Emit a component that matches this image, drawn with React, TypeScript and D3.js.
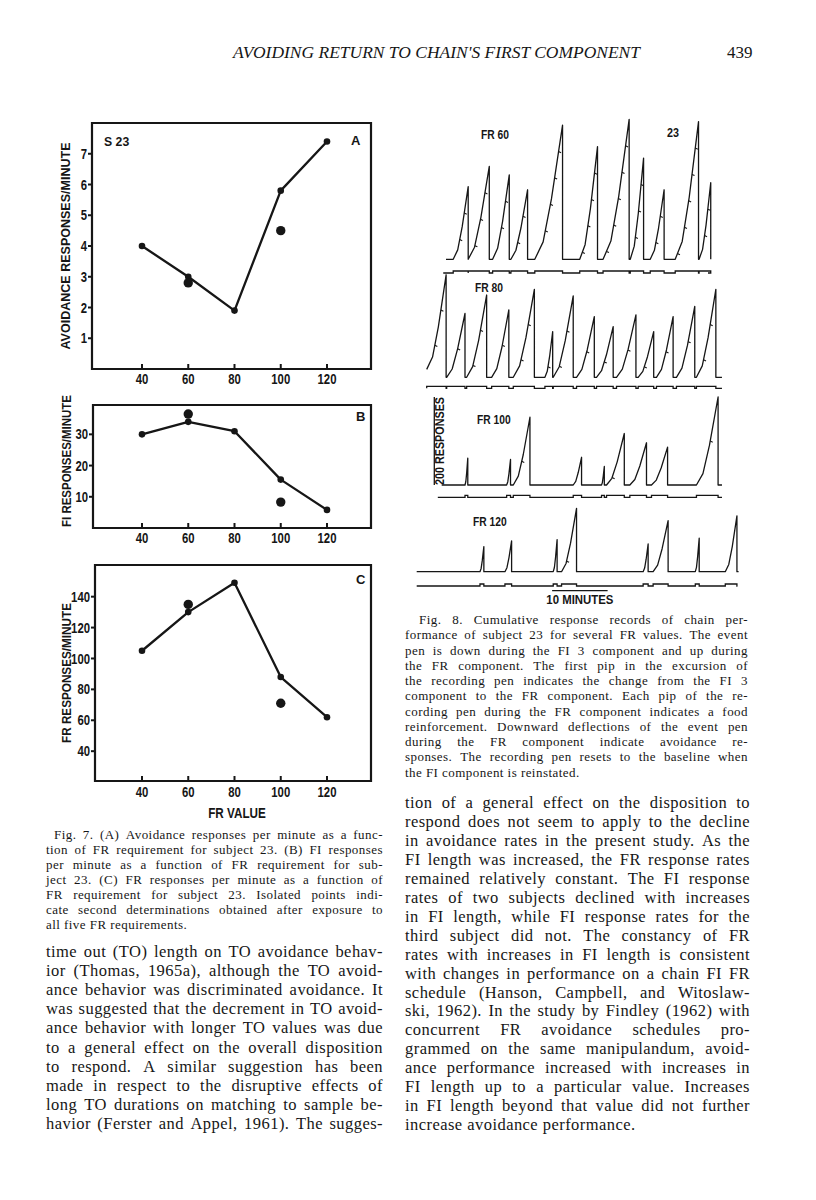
import React from 'react';
import * as d3 from 'd3';

// ---------------- data ----------------
const frValues = [40, 60, 80, 100, 120];
const xTickLabels = ['40', '60', '80', '100', '120'];

const avoidRates = [4.0, 3.0, 1.9, 5.8, 7.4];
const avoidRedetFR = [60, 100];
const avoidRedet = [2.8, 4.5];
const avoidTicks = [1, 2, 3, 4, 5, 6, 7];

const fiRates = [30, 34, 31, 15.5, 5.8];
const fiRedetFR = [60, 100];
const fiRedet = [36.5, 8.3];
const fiTicks = [10, 20, 30];

const frRates = [105, 130, 149, 88, 62];
const frRedetFR = [60, 100];
const frRedet = [135, 71];
const frTicks = [40, 60, 80, 100, 120, 140];

// cumulative records: excursion start (min), peak (min), peak height (responses)
const rec60Start = [1.3, 4.0, 8.4, 11.7, 16.0, 24.1, 28.3, 33.2, 36.8, 41.3, 45.6];
const rec60Peak = [4.0, 7.8, 11.4, 14.7, 21.0, 27.3, 33.0, 35.6, 39.3, 45.5, 47.7];
const rec60Height = [165, 211, 192, 158, 305, 256, 318, 230, 158, 313, 174];

const rec80Start = [0, 3.6, 7.2, 11.7, 15.6, 21.3, 22.8, 27.0, 30.6, 34.2, 38.1, 41.4, 45.0, 48.6];
const rec80Peak = [3.5, 6.9, 10.8, 14.8, 19.4, 22.7, 26.4, 30.2, 33.6, 37.7, 40.9, 44.4, 48.3, 52.1];
const rec80Height = [233, 145, 187, 153, 200, 104, 185, 138, 115, 142, 104, 138, 161, 200];

const rec100Start = [4.2, 11.7, 12.9, 23.7, 28.8, 29.7, 33.9, 37.8, 45.9];
const rec100Peak = [4.7, 12.4, 15.9, 25.2, 29.3, 32.9, 36.9, 40.7, 49.8];
const rec100Height = [61, 58, 154, 63, 42, 117, 96, 86, 200];

const rec120Start = [11.4, 15.9, 24.6, 26.1, 40.8, 42.6, 50.2, 55.6];
const rec120Peak = [12.1, 17.1, 25.3, 28.8, 41.7, 45.3, 50.9, 57.7];
const rec120Height = [57, 70, 73, 144, 63, 116, 76, 127];

const recordLabels = ['FR 60', 'FR 80', 'FR 100', 'FR 120'];

// ---------------- text ----------------
const headerText = "AVOIDING RETURN TO CHAIN'S FIRST COMPONENT";
const pageNumber = '439';

const fig7Caption = [
  'Fig. 7. (A) Avoidance responses per minute as a func-',
  'tion of FR requirement for subject 23. (B) FI responses',
  'per minute as a function of FR requirement for sub-',
  'ject 23. (C) FR responses per minute as a function of',
  'FR requirement for subject 23. Isolated points indi-',
  'cate second determinations obtained after exposure to',
  'all five FR requirements.',
];

const fig8Caption = [
  'Fig. 8. Cumulative response records of chain per-',
  'formance of subject 23 for several FR values. The event',
  'pen is down during the FI 3 component and up during',
  'the FR component. The first pip in the excursion of',
  'the recording pen indicates the change from the FI 3',
  'component to the FR component. Each pip of the re-',
  'cording pen during the FR component indicates a food',
  'reinforcement. Downward deflections of the event pen',
  'during the FR component indicate avoidance re-',
  'sponses. The recording pen resets to the baseline when',
  'the FI component is reinstated.',
];

const leftBody = [
  'time out (TO) length on TO avoidance behav-',
  'ior (Thomas, 1965a), although the TO avoid-',
  'ance behavior was discriminated avoidance. It',
  'was suggested that the decrement in TO avoid-',
  'ance behavior with longer TO values was due',
  'to a general effect on the overall disposition',
  'to respond. A similar suggestion has been',
  'made in respect to the disruptive effects of',
  'long TO durations on matching to sample be-',
  'havior (Ferster and Appel, 1961). The sugges-',
];

const rightBody = [
  'tion of a general effect on the disposition to',
  'respond does not seem to apply to the decline',
  'in avoidance rates in the present study. As the',
  'FI length was increased, the FR response rates',
  'remained relatively constant. The FI response',
  'rates of two subjects declined with increases',
  'in FI length, while FI response rates for the',
  'third subject did not. The constancy of FR',
  'rates with increases in FI length is consistent',
  'with changes in performance on a chain FI FR',
  'schedule (Hanson, Campbell, and Witoslaw-',
  'ski, 1962). In the study by Findley (1962) with',
  'concurrent FR avoidance schedules pro-',
  'grammed on the same manipulandum, avoid-',
  'ance performance increased with increases in',
  'FI length up to a particular value. Increases',
  'in FI length beyond that value did not further',
  'increase avoidance performance.',
];

// ---------------- style ----------------
const INK = '#161616';
const SANS = '"Liberation Sans","Arial",sans-serif';
const SERIF = '"Liberation Serif","Times New Roman",serif';

let _ctx: CanvasRenderingContext2D | null = null;
function measure(text: string, font: string) {
  if (!_ctx) _ctx = document.createElement('canvas').getContext('2d');
  _ctx!.font = font;
  return _ctx!.measureText(text).width;
}

function Block({ lines, x, y, lh, width, size, ls, lastFree, indent }: any) {
  const font = `${size}px "Liberation Serif"`;
  return (
    <g>
      {lines.map((ln: string, i: number) => {
        const words = ln.split(' ');
        const ws = words.map((w) => measure(w, font) + ls * w.length);
        const x0 = x + (i === 0 ? indent : 0);
        const avail = x + width - x0;
        const total = ws.reduce((a, b) => a + b, 0);
        const justify = !(lastFree && i === lines.length - 1);
        const gap =
          justify && words.length > 1 ? (avail - total) / (words.length - 1) : measure(' ', font) + ls;
        let cx = x0;
        const xs = ws.map((w) => {
          const r = cx;
          cx += w + gap;
          return r;
        });
        return (
          <text key={i} y={y + i * lh} fontFamily={SERIF} fontSize={size} letterSpacing={ls} fill={INK}>
            {words.map((w, j) => (
              <tspan key={j} x={xs[j]}>
                {w}
              </tspan>
            ))}
          </text>
        );
      })}
    </g>
  );
}

// condensed bold label (width forced per character)
function CText({ x, y, anchor, size, perChar, children, dy }: any) {
  const s = String(children);
  return (
    <text
      x={x}
      y={y}
      dy={dy}
      textAnchor={anchor}
      fontFamily={SANS}
      fontWeight="bold"
      fontSize={size}
      textLength={s.length * perChar}
      lengthAdjust="spacingAndGlyphs"
      fill={INK}
    >
      {s}
    </text>
  );
}

function Panel(p: any) {
  const x = d3.scaleLinear().domain([40, 120]).range([142, 327]);
  const y = d3.scaleLinear().domain(p.yDomain).range([p.bottom, p.top]);
  const pts: [number, number][] = frValues.map((v, i) => [x(v), y(p.rates[i])]);
  const line = d3.line()(pts) as string;
  return (
    <g>
      <path
        d={`M${p.right},${p.top}H${p.left}V${p.bottom}H${p.right}Z`}
        fill="none"
        stroke={INK}
        strokeWidth={2.2}
      />
      {frValues.map((v, i) => (
        <g key={i}>
          <line x1={x(v)} x2={x(v)} y1={p.bottom - 1} y2={p.bottom - 5} stroke={INK} strokeWidth={2} />
          <CText x={x(v)} y={p.xLabelY} anchor="middle" size={14} perChar={6.3}>
            {xTickLabels[i]}
          </CText>
        </g>
      ))}
      {p.ticks.map((t: number) => (
        <g key={t}>
          <line x1={p.left - 4} x2={p.left} y1={y(t)} y2={y(t)} stroke={INK} strokeWidth={2} />
          <CText x={p.left - 5} y={y(t)} dy="0.36em" anchor="end" size={14} perChar={6.3}>
            {t}
          </CText>
        </g>
      ))}
      <path d={line} fill="none" stroke={INK} strokeWidth={2.3} strokeLinejoin="round" />
      {pts.map((q, i) => (
        <circle key={i} cx={q[0]} cy={q[1]} r={3.3} fill={INK} />
      ))}
      {p.isoX.map((v: number, i: number) => (
        <circle key={'i' + i} cx={x(v)} cy={y(p.isoY[i])} r={4.7} fill={INK} />
      ))}
      <text
        transform={`translate(${p.labelX},${p.labelCY}) rotate(-90)`}
        textAnchor="middle"
        fontFamily={SANS}
        fontWeight="bold"
        fontSize={13.5}
        textLength={p.labelLen}
        lengthAdjust="spacingAndGlyphs"
        fill={INK}
      >
        {p.yLabel}
      </text>
      <text x={p.letterX} y={p.letterY} fontFamily={SANS} fontWeight="bold" fontSize={13} fill={INK}>
        {p.letter}
      </text>
    </g>
  );
}

const MIN10 = 55.5; // px per 10 minutes
const RESP200 = 88; // px per 200 responses
const RISE_T = [0, 0.3, 0.6, 1];
const RISE_H = [0, 0.13, 0.45, 1];

function Record(p: any) {
  const xs = d3.scaleLinear().domain([0, 10]).range([p.x0, p.x0 + MIN10]);
  const ys = d3.scaleLinear().domain([0, 200]).range([p.base, p.base - RESP200]);
  const pts: [number, number][] = [];
  const pips: [number, number][] = [];
  const ev: [number, number][] = [[xs(p.evStart), p.evY]];
  const h0 = p.h0 || 0;
  pts.push([xs(0), ys(p.starts[0] === 0 ? h0 : 0)]);
  p.starts.forEach((s: number, i: number) => {
    const pk = p.peaks[i];
    const h = p.heights[i];
    const hs = i === 0 && s === 0 ? h0 : 0;
    const rise = RISE_T.map((f, k) => [s + f * (pk - s), hs + RISE_H[k] * (h - hs)]);
    rise.forEach((r) => pts.push([xs(r[0]), ys(r[1])]));
    pts.push([xs(pk), ys(0)]);
    for (let hk = h - p.fr; hk > hs + 12; hk -= p.fr) {
      for (let k = 1; k < rise.length; k++) {
        const a = rise[k - 1];
        const b = rise[k];
        if (hk >= a[1] && hk <= b[1]) {
          const f = (hk - a[1]) / (b[1] - a[1]);
          pips.push([xs(a[0] + f * (b[0] - a[0])), ys(hk)]);
          break;
        }
      }
    }
    ev.push([xs(s), p.evY], [xs(s), p.evY - 2], [xs(pk), p.evY - 2], [xs(pk), p.evY]);
  });
  pts.push([xs(p.end), ys(0)]);
  ev.push([xs(p.evEnd), p.evY]);
  return (
    <g>
      <path d={d3.line()(pts) as string} fill="none" stroke={INK} strokeWidth={1.3} strokeLinejoin="round" />
      <path d={d3.line()(ev) as string} fill="none" stroke={INK} strokeWidth={1.3} />
      {pips.map((q, i) => (
        <line key={i} x1={q[0]} y1={q[1]} x2={q[0] + 2.5} y2={q[1] + 1.2} stroke={INK} strokeWidth={1.1} />
      ))}
      <CText x={p.labelX} y={p.labelY} anchor="start" size={12} perChar={5.6}>
        {p.label}
      </CText>
    </g>
  );
}

export default function App() {
  const r4x = d3.scaleLinear().domain([0, 10]).range([416.7, 416.7 + MIN10]);
  const r3y = d3.scaleLinear().domain([0, 200]).range([485, 485 - RESP200]);
  return (
    <svg
      width={816}
      height={1200}
      viewBox="0 0 816 1200"
      style={{ position: 'absolute', left: 0, top: 0, background: '#fff' }}
    >
      <rect x={0} y={0} width={816} height={1200} fill="#fff" />
      <text
        x={233}
        y={58}
        fontFamily={SERIF}
        fontStyle="italic"
        fontSize={17}
        textLength={407}
        lengthAdjust="spacingAndGlyphs"
        fill={INK}
      >
        {headerText}
      </text>
      <text x={727} y={58} fontFamily={SERIF} fontSize={17} fill={INK}>
        {pageNumber}
      </text>

      <Panel
        left={92}
        right={371}
        top={123}
        bottom={369}
        yDomain={[0, 8]}
        ticks={avoidTicks}
        rates={avoidRates}
        isoX={avoidRedetFR}
        isoY={avoidRedet}
        yLabel="AVOIDANCE RESPONSES/MINUTE"
        labelX={70}
        labelCY={246}
        labelLen={207}
        letter="A"
        letterX={351}
        letterY={145}
        xLabelY={384}
      />
      <CText x={104} y={146} anchor="start" size={13} perChar={6.3}>
        S 23
      </CText>
      <Panel
        left={93}
        right={371}
        top={405}
        bottom={528}
        yDomain={[0, 39.4]}
        ticks={fiTicks}
        rates={fiRates}
        isoX={fiRedetFR}
        isoY={fiRedet}
        yLabel="FI RESPONSES/MINUTE"
        labelX={71}
        labelCY={461}
        labelLen={132}
        letter="B"
        letterX={356}
        letterY={421}
        xLabelY={543}
      />
      <Panel
        left={95}
        right={371}
        top={565}
        bottom={781}
        yDomain={[20.7, 160.5]}
        ticks={frTicks}
        rates={frRates}
        isoX={frRedetFR}
        isoY={frRedet}
        yLabel="FR RESPONSES/MINUTE"
        labelX={71}
        labelCY={673}
        labelLen={140}
        letter="C"
        letterX={356}
        letterY={584}
        xLabelY={797}
      />
      <CText x={237} y={818} anchor="middle" size={14} perChar={7.2}>
        FR VALUE
      </CText>

      <Record
        starts={rec60Start}
        peaks={rec60Peak}
        heights={rec60Height}
        end={47.7}
        x0={446}
        base={259.3}
        evY={273}
        evStart={-0.5}
        evEnd={47.2}
        fr={60}
        label={recordLabels[0]}
        labelX={481}
        labelY={139}
      />
      <CText x={667} y={137} anchor="start" size={12} perChar={6}>
        23
      </CText>
      <Record
        starts={rec80Start}
        peaks={rec80Peak}
        heights={rec80Height}
        h0={18}
        end={53.2}
        x0={426.7}
        base={377.3}
        evY={388.3}
        evStart={0}
        evEnd={53.2}
        fr={80}
        label={recordLabels[1]}
        labelX={475}
        labelY={292}
      />
      <Record
        starts={rec100Start}
        peaks={rec100Peak}
        heights={rec100Height}
        end={50.5}
        x0={441.7}
        base={485}
        evY={497.3}
        evStart={-0.7}
        evEnd={50.5}
        fr={100}
        label={recordLabels[2]}
        labelX={477}
        labelY={424}
      />
      <Record
        starts={rec120Start}
        peaks={rec120Peak}
        heights={rec120Height}
        end={58.0}
        x0={416.7}
        base={571.7}
        evY={586}
        evStart={0}
        evEnd={57.8}
        fr={120}
        label={recordLabels[3]}
        labelX={473}
        labelY={526}
      />
      {/* scale bars */}
      <line x1={434.3} x2={434.3} y1={r3y(0)} y2={r3y(200)} stroke={INK} strokeWidth={1.3} />
      <text
        transform={`translate(443.5,${(r3y(0) + r3y(200)) / 2}) rotate(-90)`}
        textAnchor="middle"
        fontFamily={SANS}
        fontWeight="bold"
        fontSize={12}
        textLength={88}
        lengthAdjust="spacingAndGlyphs"
        fill={INK}
      >
        200 RESPONSES
      </text>
      <line x1={r4x(24.4)} x2={r4x(34.4)} y1={590.7} y2={590.7} stroke={INK} strokeWidth={1.3} />
      <text
        x={(r4x(24.4) + r4x(34.4)) / 2}
        y={604}
        textAnchor="middle"
        fontFamily={SANS}
        fontWeight="bold"
        fontSize={12}
        textLength={67}
        lengthAdjust="spacingAndGlyphs"
        fill={INK}
      >
        10 MINUTES
      </text>

      <Block lines={fig7Caption} x={46} y={839} lh={15} width={337} size={13} ls={0.45} lastFree indent={8} />
      <Block lines={leftBody} x={46} y={957} lh={19.1} width={337} size={16.5} ls={0.45} lastFree={false} indent={0} />
      <Block lines={fig8Caption} x={405} y={624} lh={15.25} width={343} size={13} ls={0.45} lastFree indent={14} />
      <Block lines={rightBody} x={405} y={808} lh={18.95} width={345} size={16.5} ls={0.45} lastFree indent={0} />
    </svg>
  );
}
